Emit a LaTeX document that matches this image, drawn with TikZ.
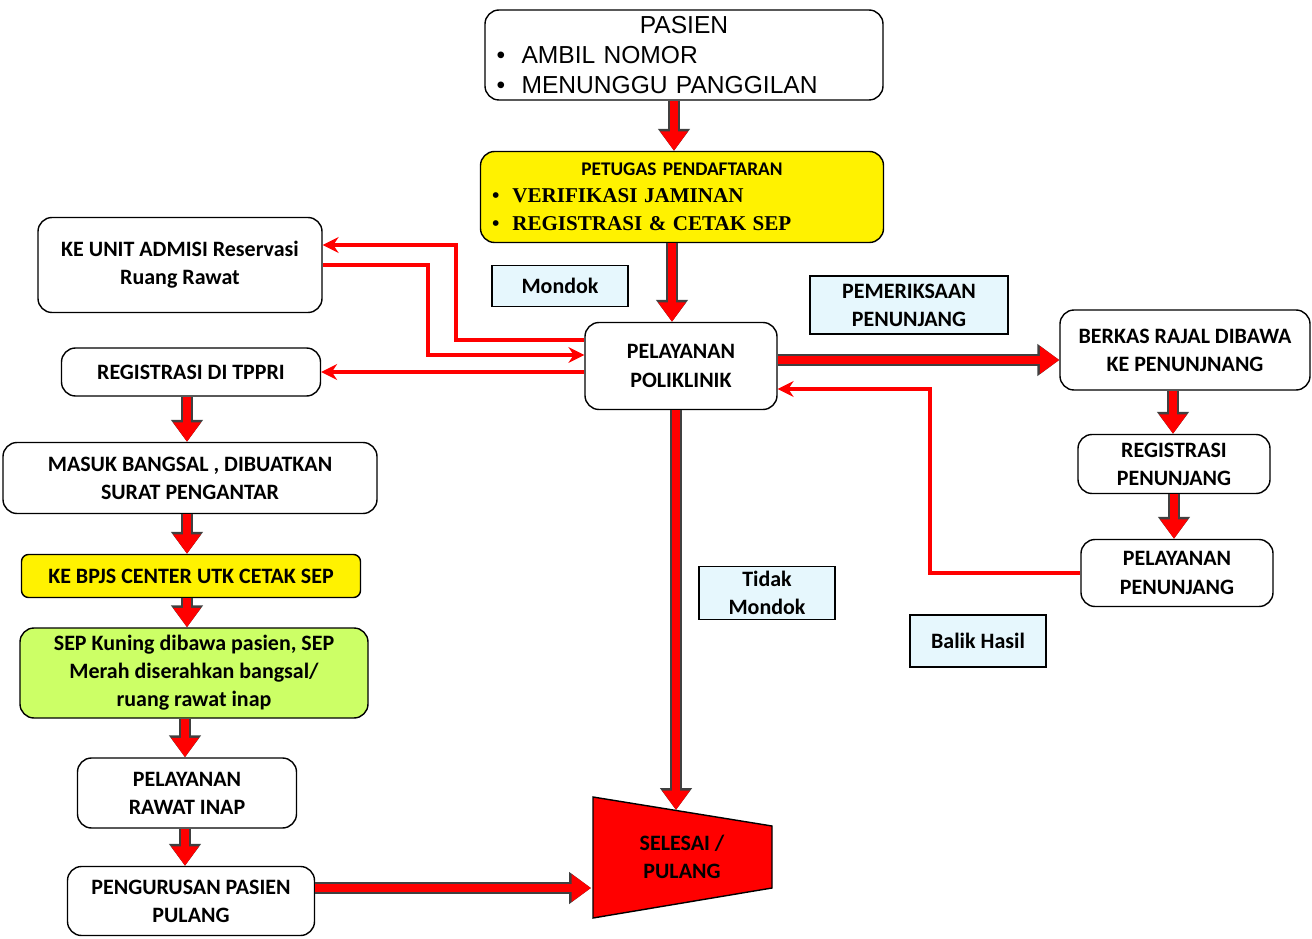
\documentclass[tikz,border=0pt]{standalone}
\usepackage{fontspec}
\setmainfont{Carlito}
\newfontfamily\arialfont{Liberation Sans}
\newfontfamily\timesfont{Liberation Serif}
\usetikzlibrary{arrows.meta}

\definecolor{lime}{HTML}{CCFF66}

\tikzset{
    box/.style={draw, thick, rounded corners=8pt, align=center, fill=white,
        font=\fontsize{12.5}{16}\selectfont\bfseries, inner sep=2pt},
    note/.style={draw, thick, fill=cyan!10, align=center,
        font=\fontsize{12.5}{16}\selectfont\bfseries, inner sep=2pt},
    fat/.style={draw=red, line width=5pt, -{Triangle[length=11pt,width=15pt]},
        preaction={draw=black!75, line width=6.4pt, -{Triangle[length=12.5pt,width=17.5pt]}}},
    thin/.style={draw=red, line width=1.8pt, -{Stealth[length=9pt,width=9pt]}}
}

\begin{document}
\begin{tikzpicture}[x=0.02cm, y=-0.02cm]
    \useasboundingbox (0,0) rectangle (1312,939);

    % Boxes (centre, width, height in pixels)
    \node[box, minimum width=398*0.02cm, minimum height=90*0.02cm, align=left, text width=7.5cm,
        font=\arialfont\fontsize{14}{17}\selectfont] (pasien) at (684,55)
        {\makebox[\linewidth]{PASIEN}\\ \textbullet\ \ AMBIL NOMOR\\ \textbullet\ \ MENUNGGU PANGGILAN};
    \node[box, fill=yellow, minimum width=403*0.02cm, minimum height=91*0.02cm, align=left, text width=7.6cm,
        font=\fontsize{11}{14}\selectfont\bfseries] (petugas) at (682,197)
        {\makebox[\linewidth]{PETUGAS PENDAFTARAN}\\[1pt]
         {\timesfont\bfseries\fontsize{12}{14}\selectfont \textbullet\ \ VERIFIKASI JAMINAN}\\[2pt]
         {\timesfont\bfseries\fontsize{12}{14}\selectfont \textbullet\ \ REGISTRASI \& CETAK SEP}};
    \node[box, minimum width=284*0.02cm, minimum height=95*0.02cm] (admisi) at (180,265)
        {KE UNIT ADMISI Reservasi\\ Ruang Rawat};
    \node[box, minimum width=192*0.02cm, minimum height=87*0.02cm] (poli) at (681,366)
        {PELAYANAN\\ POLIKLINIK};
    \node[box, minimum width=250*0.02cm, minimum height=80*0.02cm] (berkas) at (1185,350)
        {BERKAS RAJAL DIBAWA\\ KE PENUNJNANG};
    \node[box, minimum width=259*0.02cm, minimum height=48*0.02cm] (tppri) at (191,372)
        {REGISTRASI DI TPPRI};
    \node[box, minimum width=374*0.02cm, minimum height=71*0.02cm] (bangsal) at (190,478)
        {MASUK BANGSAL , DIBUATKAN\\ SURAT PENGANTAR};
    \node[box, minimum width=192*0.02cm, minimum height=59*0.02cm] (regpen) at (1174,464)
        {REGISTRASI\\ PENUNJANG};
    \node[box, minimum width=192*0.02cm, minimum height=67*0.02cm] (pelpen) at (1177,573)
        {PELAYANAN\\ PENUNJANG};
    \node[box, fill=yellow, rounded corners=4pt, minimum width=339*0.02cm, minimum height=43*0.02cm] (bpjs) at (191,576)
        {KE BPJS CENTER UTK CETAK SEP};
    \node[box, fill=lime, minimum width=348*0.02cm, minimum height=90*0.02cm] (sep) at (194,673)
        {SEP Kuning dibawa pasien, SEP\\ Merah diserahkan bangsal/\\ ruang rawat inap};
    \node[box, minimum width=219*0.02cm, minimum height=70*0.02cm] (inap) at (187,793)
        {PELAYANAN\\ RAWAT INAP};
    \node[box, minimum width=247*0.02cm, minimum height=69*0.02cm] (pulang) at (191,901)
        {PENGURUSAN PASIEN\\ PULANG};

    % Labels
    \node[note, minimum width=136*0.02cm, minimum height=41*0.02cm] (mondok) at (560,286) {Mondok};
    \node[note, minimum width=198*0.02cm, minimum height=58*0.02cm] (periksa) at (909,305) {PEMERIKSAAN\\ PENUNJANG};
    \node[note, minimum width=136*0.02cm, minimum height=53*0.02cm] (tidak) at (767,593) {Tidak\\ Mondok};
    \node[note, minimum width=136*0.02cm, minimum height=52*0.02cm] (balik) at (978,641) {Balik Hasil};

    % End shape
    \draw[thick, fill=red] (593,797) -- (772,826) -- (772,888) -- (593,918) -- cycle;
    \node[font=\fontsize{12.5}{16}\selectfont\bfseries, align=center] (selesai) at (682,857) {SELESAI /\\ PULANG};
    \coordinate (selesaiT) at (676,810);
    \coordinate (selesaiL) at (591,888);

    % Block arrows
    \draw[fat] (pasien.south -| 674,0) -- (petugas.north -| 674,0);
    \draw[fat] (petugas.south -| 672,0) -- (poli.north -| 672,0);
    \draw[fat] (poli.east |- 0,360) -- (berkas.west |- 0,360);
    \draw[fat] (berkas.south -| 1173,0) -- (regpen.north -| 1173,0);
    \draw[fat] (regpen.south) -- (pelpen.north -| regpen.south);
    \draw[fat] (tppri.south -| 187,0) -- (bangsal.north -| 187,0);
    \draw[fat] (bangsal.south -| 187,0) -- (bpjs.north -| 187,0);
    \draw[fat] (bpjs.south -| 187,0) -- (sep.north -| 187,0);
    \draw[fat] (sep.south -| 185,0) -- (inap.north -| 185,0);
    \draw[fat] (inap.south -| 185,0) -- (pulang.north -| 185,0);
    \draw[fat] (pulang.east |- 0,888) -- (selesaiL);
    \draw[fat] (poli.south -| 676,0) -- (selesaiT);

    % Thin arrows
    \draw[thin] (poli.west |- 0,340) -| (456,245) -- (admisi.east |- 0,245);
    \draw[thin] (admisi.east |- 0,265) -| (428,355) -- (poli.west |- 0,355);
    \draw[thin] (poli.west |- 0,372) -- (tppri.east |- 0,372);
    \draw[thin] (pelpen.west |- 0,573) -| (930,389) -- (poli.east |- 0,389);
\end{tikzpicture}
\end{document}
